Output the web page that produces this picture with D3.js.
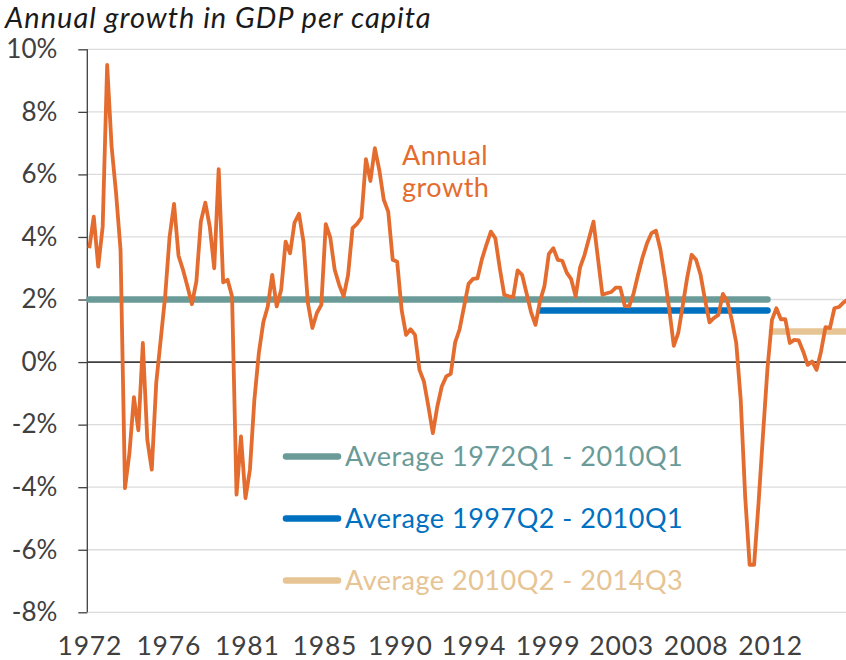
<!DOCTYPE html>
<html lang="en">
<head>
<meta charset="UTF-8">
<script src="https://d3js.org/d3.v7.min.js"></script>
<title>Annual growth in GDP per capita</title>
<style>
    body { margin: 0; background: #fff; }
    #chart { width: 846px; height: 660px; }
    text { font-family: Lato, "Open Sans", sans-serif; }
</style>
</head>
<body>
<div id="chart"></div>
<script>
// quarterly annual growth (%), 1972Q1 .. 2014Q3
var growth = [
  3.64, 4.65, 3.05, 4.33, 9.50, 6.89, 5.40, 3.59, -4.03, -2.91,
  -1.12, -2.18, 0.61, -2.48, -3.44, -0.67, 0.71, 2.10, 4.01, 5.06,
  3.40, 2.95, 2.42, 1.85, 2.58, 4.49, 5.10, 4.33, 3.00, 6.17,
  2.55, 2.63, 2.10, -4.24, -2.38, -4.35, -3.44, -1.20, 0.29, 1.27,
  1.78, 2.79, 1.78, 2.31, 3.85, 3.48, 4.46, 4.74, 3.85, 1.88,
  1.09, 1.57, 1.83, 4.41, 3.99, 2.95, 2.47, 2.10, 2.79, 4.28,
  4.42, 4.62, 6.49, 5.79, 6.84, 6.14, 5.19, 4.81, 3.27, 3.21,
  1.67, 0.87, 1.05, 0.87, -0.25, -0.62, -1.42, -2.27, -1.42, -0.78,
  -0.46, -0.38, 0.63, 1.05, 1.78, 2.50, 2.66, 2.68, 3.29, 3.75,
  4.17, 3.96, 3.00, 2.15, 2.10, 2.08, 2.93, 2.79, 2.20, 1.60,
  1.19, 1.94, 2.42, 3.46, 3.64, 3.27, 3.24, 2.86, 2.65, 2.10,
  3.03, 3.43, 3.96, 4.49, 3.32, 2.15, 2.20, 2.24, 2.38, 2.38,
  1.80, 1.78, 2.20, 2.80, 3.35, 3.80, 4.12, 4.20, 3.60, 2.70,
  1.67, 0.52, 0.93, 1.80, 2.70, 3.43, 3.27, 2.79, 1.99, 1.27,
  1.41, 1.51, 2.18, 1.94, 1.35, 0.61, -1.20, -4.30, -6.48, -6.48,
  -4.50, -2.30, -0.20, 1.35, 1.72, 1.37, 1.37, 0.61, 0.71, 0.69,
  0.34, -0.09, 0.02, -0.25, 0.34, 1.12, 1.09, 1.72, 1.76, 1.90,
  2.00
];

// category labels
var quarters = [];
for (var yr = 1972; quarters.length < growth.length; yr++) {
    for (var q = 1; q <= 4 && quarters.length < growth.length; q++) quarters.push(yr + "Q" + q);
}

var avgNames = ["Average 1972Q1 - 2010Q1", "Average 1997Q2 - 2010Q1", "Average 2010Q2 - 2014Q3"];
var avgFrom = ["1972Q1", "1997Q2", "2010Q2"];
var avgTo = ["2010Q1", "2010Q1", "2014Q3"];
var avgValues = [2.0, 1.65, 0.98];
var avgColors = ["#6a9b98", "#0070c0", "#e6c493"];

var yTicks = [-8, -6, -4, -2, 0, 2, 4, 6, 8, 10];
var xTickLabels = ["1972", "1976", "1981", "1985", "1990", "1994", "1999", "2003", "2008", "2012"];
var xTickAt = [0, 17.7, 35.3, 52.7, 69.6, 86.1, 102.7, 119.2, 135.9, 152.6]; // in quarters

var lineColor = "#e36c2e";

const svg = d3.select("#chart").append("svg").attr("width", 846).attr("height", 660);

const x = d3.scaleLinear().domain([0, growth.length - 1]).range([89.3, 847.8]);
const y = d3.scaleLinear().domain([-8, 10]).range([612.3, 49.3]);

// title
svg.append("text").attr("x", 5).attr("y", 28)
    .attr("font-size", 29).attr("letter-spacing", 1).attr("font-style", "italic").attr("fill", "#1a1a1a")
    .text("Annual growth in GDP per capita");

// gridlines
svg.append("g").selectAll("line").data(yTicks).join("line")
    .attr("x1", x(0) - 2).attr("x2", 846)
    .attr("y1", d => y(d)).attr("y2", d => y(d))
    .attr("stroke", d => d === 0 ? "#404040" : "#dcdcdc")
    .attr("stroke-width", d => d === 0 ? 1.6 : 1.3);

// y axis
const yAxis = svg.append("g").attr("transform", "translate(87.3,0)")
    .call(d3.axisLeft(y).tickValues(yTicks).tickSize(9).tickPadding(21).tickFormat(d => d + "%"));
yAxis.select(".domain").attr("stroke", "#404040").attr("stroke-width", 1.3).attr("d", "M0," + y(10) + "V" + y(-8));
yAxis.selectAll(".tick line").attr("stroke", "#404040").attr("stroke-width", 1.3);
yAxis.selectAll("text").attr("font-size", 26).attr("fill", "#404040").attr("font-family", "Lato, sans-serif");

// x axis labels
const xAxis = svg.append("g").attr("transform", "translate(0," + y(-8) + ")")
    .call(d3.axisBottom(x).tickValues(xTickAt).tickSize(0).tickPadding(24).tickFormat((d, i) => xTickLabels[i]));
xAxis.select(".domain").remove();
xAxis.selectAll("text").attr("font-size", 26.5).attr("letter-spacing", 0.8)
    .attr("fill", "#404040").attr("font-family", "Lato, sans-serif");

// average lines
avgValues.forEach(function (v, i) {
    var a = quarters.indexOf(avgFrom[i]), b = quarters.indexOf(avgTo[i]);
    svg.append("line")
        .attr("x1", x(a)).attr("x2", x(b)).attr("y1", y(v)).attr("y2", y(v))
        .attr("stroke", avgColors[i]).attr("stroke-width", 6.5).attr("stroke-linecap", "round");
});

// growth line
const line = d3.line().x((d, i) => x(i)).y(d => y(d));
svg.append("path").datum(growth)
    .attr("fill", "none").attr("stroke", lineColor).attr("stroke-width", 3.8)
    .attr("stroke-linejoin", "round").attr("d", line);

svg.append("text").attr("x", 402).attr("y", 165).attr("font-size", 27).attr("letter-spacing", 0.5)
    .attr("fill", lineColor).text("Annual");
svg.append("text").attr("x", 402).attr("y", 197).attr("font-size", 27).attr("letter-spacing", 0.5)
    .attr("fill", lineColor).text("growth");

// legend
const legend = svg.append("g");
avgNames.forEach(function (name, i) {
    var ly = 456.5 + i * 62;
    legend.append("line").attr("x1", 286).attr("x2", 338).attr("y1", ly).attr("y2", ly)
        .attr("stroke", avgColors[i]).attr("stroke-width", 6.5).attr("stroke-linecap", "round");
    legend.append("text").attr("x", 345).attr("y", ly + 9.5).attr("font-size", 27).attr("letter-spacing", 0.5)
        .attr("fill", avgColors[i]).text(name);
});
</script>
</body>
</html>
